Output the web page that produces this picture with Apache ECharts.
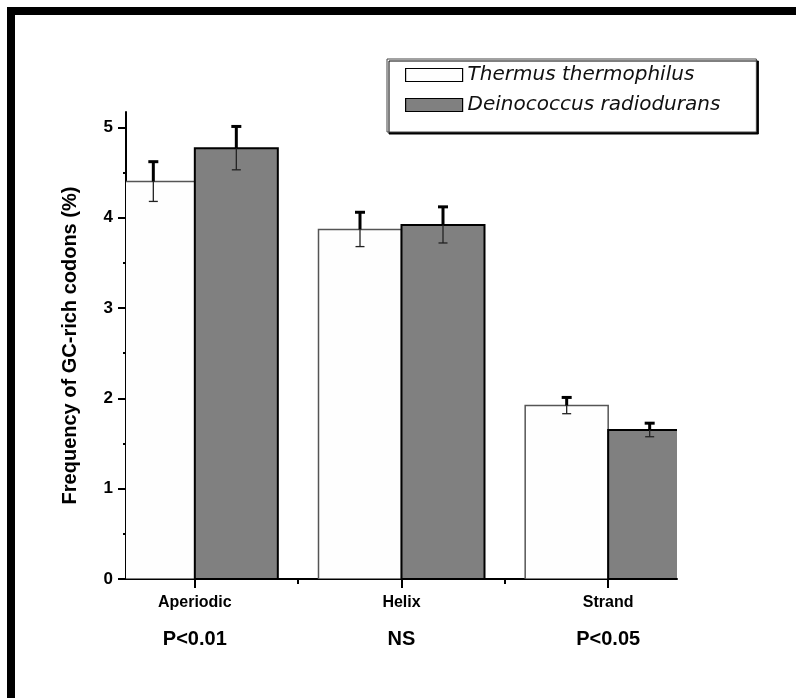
<!DOCTYPE html>
<html>
<head>
<meta charset="utf-8">
<script src="https://cdn.jsdelivr.net/npm/echarts@6/dist/echarts.min.js"></script>
<style>
html,body{margin:0;padding:0;background:#fff;}
#chart{width:796px;height:698px;}
</style>
</head>
<body>
<div id="chart"></div>
<script>
// ---- data ----
const categories = ['Aperiodic', 'Helix', 'Strand'];
const pValues = ['P<0.01', 'NS', 'P<0.05'];
const seriesNames = ['Thermus thermophilus', 'Deinococcus radiodurans'];
const thermusMean = [4.40, 3.87, 1.92];
const thermusErr = [0.22, 0.19, 0.09];
const deinoMean = [4.77, 3.92, 1.65];
const deinoErr = [0.24, 0.20, 0.075];
const yTicks = [0, 1, 2, 3, 4, 5];
const yMinorTicks = [0.5, 1.5, 2.5, 3.5, 4.5];
const xTicks = [1, 2, 3];
const xMinorTicks = [1.5, 2.5];

// ---- layout / style ----
const X_MIN = 0.667, X_MAX = 3.333;
const Y_MIN = 0, Y_MAX = 5.17;
const BAR_PX = 83;
const FONT = '"Liberation Sans", Arial, sans-serif';

function toData(means, errs) {
  return means.map((m, i) => [xTicks[i], m, errs[i]]);
}

function makeRender(side, fill, stroke, strokeW) {
  return function (params, api) {
    const x = api.value(0), v = api.value(1), e = api.value(2);
    const base = api.coord([x, 0]);
    const top = api.coord([x, v]);
    const hi = api.coord([x, v + e])[1];
    const lo = api.coord([x, v - e])[1];
    const x0 = side < 0 ? base[0] - BAR_PX : base[0];
    const cx = x0 + BAR_PX / 2;
    return {
      type: 'group',
      children: [
        { type: 'rect', shape: { x: x0, y: top[1], width: BAR_PX, height: base[1] - top[1] },
          style: { fill: fill, stroke: stroke, lineWidth: strokeW } },
        { type: 'line', shape: { x1: cx, y1: hi, x2: cx, y2: top[1] },
          style: { stroke: '#000', lineWidth: 3 } },
        { type: 'line', shape: { x1: cx - 5, y1: hi, x2: cx + 5, y2: hi },
          style: { stroke: '#000', lineWidth: 3 } },
        { type: 'line', shape: { x1: cx, y1: top[1], x2: cx, y2: lo },
          style: { stroke: '#222', lineWidth: 1.3 } },
        { type: 'line', shape: { x1: cx - 4.5, y1: lo, x2: cx + 4.5, y2: lo },
          style: { stroke: '#222', lineWidth: 1.3 } }
      ]
    };
  };
}

const chart = echarts.init(document.getElementById('chart'));
chart.setOption({
  animation: false,
  backgroundColor: '#fff',
  graphic: [
    { type: 'rect', shape: { x: 7, y: 7, width: 789, height: 8 }, style: { fill: '#000' }, z: 100 },
    { type: 'rect', shape: { x: 7, y: 7, width: 8, height: 691 }, style: { fill: '#000' }, z: 100 }
  ],
  grid: { left: 126, right: 119, top: 112, bottom: 119 },
  legend: {
    orient: 'vertical',
    left: 387, top: 59,
    padding: [6, 36, 17, 18],
    itemGap: 10,
    itemWidth: 57, itemHeight: 13,
    backgroundColor: '#fff',
    borderColor: '#444', borderWidth: 1,
    shadowColor: '#000', shadowOffsetX: 2, shadowOffsetY: 2, shadowBlur: 0,
    textStyle: { fontFamily: '"DejaVu Sans", sans-serif', fontStyle: 'italic', fontSize: 20, color: '#111' },
    data: [
      { name: seriesNames[0], icon: 'rect', itemStyle: { color: '#fefefe', borderColor: '#000', borderWidth: 1.2 } },
      { name: seriesNames[1], icon: 'rect', itemStyle: { color: '#808080', borderColor: '#000', borderWidth: 1.2 } }
    ]
  },
  xAxis: [
    {
      type: 'value', position: 'bottom', min: X_MIN, max: X_MAX,
      splitLine: { show: false },
      axisLine: { show: true, onZero: false, lineStyle: { color: '#000', width: 2 } },
      axisTick: { show: true, customValues: xTicks, length: 9, lineStyle: { color: '#000', width: 2 } },
      axisLabel: {
        show: true, customValues: xTicks, margin: 14,
        formatter: function (val) {
          const i = xTicks.indexOf(Math.round(val));
          return i < 0 ? '' : '{a|' + categories[i] + '}\n{b|' + pValues[i] + '}';
        },
        rich: {
          a: { fontFamily: FONT, fontWeight: 'bold', fontSize: 16, lineHeight: 20, color: '#000' },
          b: { fontFamily: FONT, fontWeight: 'bold', fontSize: 20, lineHeight: 52, color: '#000' }
        }
      }
    },
    {
      type: 'value', position: 'bottom', min: X_MIN, max: X_MAX,
      splitLine: { show: false },
      axisLine: { show: false },
      axisLabel: { show: false },
      axisTick: { show: true, customValues: xMinorTicks, length: 5, lineStyle: { color: '#000', width: 2 } }
    }
  ],
  yAxis: [
    {
      type: 'value', position: 'left', min: Y_MIN, max: Y_MAX,
      splitLine: { show: false },
      axisLine: { show: true, onZero: false, lineStyle: { color: '#000', width: 2 } },
      axisTick: { show: true, customValues: yTicks, length: 8, lineStyle: { color: '#000', width: 2 } },
      axisLabel: {
        show: true, customValues: yTicks, margin: 13,
        fontFamily: FONT, fontWeight: 'bold', fontSize: 17, color: '#000',
        formatter: function (v) { return String(v); }
      },
      name: 'Frequency of GC-rich codons (%)',
      nameLocation: 'middle',
      nameGap: 46,
      nameTextStyle: { fontFamily: FONT, fontWeight: 'bold', fontSize: 20, color: '#000' }
    },
    {
      type: 'value', position: 'left', min: Y_MIN, max: Y_MAX,
      splitLine: { show: false },
      axisLine: { show: false },
      axisLabel: { show: false },
      axisTick: { show: true, customValues: yMinorTicks, length: 3, lineStyle: { color: '#000', width: 2 } }
    }
  ],
  series: [
    {
      name: seriesNames[0], type: 'custom', clip: true,
      xAxisIndex: 0, yAxisIndex: 0,
      encode: { x: 0, y: 1 },
      itemStyle: { color: '#fefefe', borderColor: '#000' },
      renderItem: makeRender(-1, '#fefefe', '#555', 1.5),
      data: toData(thermusMean, thermusErr)
    },
    {
      name: seriesNames[1], type: 'custom', clip: true,
      xAxisIndex: 0, yAxisIndex: 0,
      encode: { x: 0, y: 1 },
      itemStyle: { color: '#808080', borderColor: '#000' },
      renderItem: makeRender(1, '#808080', '#000', 2),
      data: toData(deinoMean, deinoErr)
    }
  ]
});
</script>
</body>
</html>
